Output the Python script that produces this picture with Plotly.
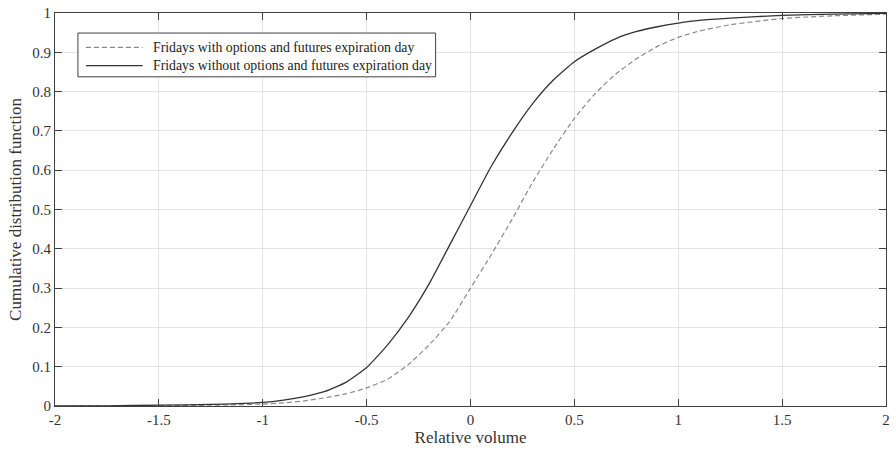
import plotly.graph_objects as go

# Relative volume grid
relative_volume = [-2.0, -1.75, -1.5, -1.25, -1.0, -0.9, -0.8, -0.7, -0.6, -0.5,
                   -0.4, -0.3, -0.2, -0.1, 0.0, 0.1, 0.2, 0.3, 0.4, 0.5,
                   0.6, 0.7, 0.8, 0.9, 1.0, 1.1, 1.25, 1.5, 1.75, 2.0]

# Empirical CDF: Fridays with options and futures expiration day
cdf_with_expiration = [0.0, 0.0002, 0.0008, 0.002, 0.005, 0.008, 0.013, 0.021, 0.031, 0.046,
                       0.068, 0.105, 0.155, 0.215, 0.300, 0.385, 0.475, 0.570, 0.655, 0.732,
                       0.795, 0.845, 0.884, 0.915, 0.938, 0.954, 0.970, 0.986, 0.993, 0.997]

# Empirical CDF: Fridays without options and futures expiration day
cdf_without_expiration = [0.0, 0.0005, 0.002, 0.004, 0.009, 0.015, 0.024, 0.037, 0.060, 0.098,
                          0.155, 0.225, 0.310, 0.410, 0.510, 0.610, 0.695, 0.770, 0.830, 0.876,
                          0.908, 0.935, 0.953, 0.965, 0.974, 0.981, 0.987, 0.994, 0.997, 0.999]

series_names = ["Fridays with options and futures expiration day",
                "Fridays without options and futures expiration day"]

x_tick_values = [-2, -1.5, -1, -0.5, 0, 0.5, 1, 1.5, 2]
x_tick_labels = ["-2", "-1.5", "-1", "-0.5", "0", "0.5", "1", "1.5", "2"]
y_tick_values = [0, 0.1, 0.2, 0.3, 0.4, 0.5, 0.6, 0.7, 0.8, 0.9, 1]
y_tick_labels = ["0", "0.1", "0.2", "0.3", "0.4", "0.5", "0.6", "0.7", "0.8", "0.9", "1"]

FONT = "Liberation Serif"
series_styles = [
    dict(color="#8a8a8a", width=1.2, dash="5px,3px"),
    dict(color="#333333", width=1.3, dash="solid"),
]

fig = go.Figure()
for name, values, style in zip(series_names,
                               [cdf_with_expiration, cdf_without_expiration],
                               series_styles):
    fig.add_trace(go.Scatter(
        x=relative_volume, y=values, mode="lines", name=name, showlegend=False,
        line=dict(shape="spline", smoothing=0.5, **style),
    ))

# Boxed legend in the upper-left corner (paper coordinates), MATLAB-style long samples
legend_box = dict(x0=0.0276, x1=0.458, y0=0.8376, y1=0.949)
legend_rows_y = [0.9125, 0.866]
sample_x = (0.0372, 0.1055)
label_x = 0.1151

fig.add_shape(type="rect", xref="paper", yref="paper", **legend_box,
              line=dict(color="#404040", width=1), fillcolor="white", layer="above")
for name, row_y, style in zip(series_names, legend_rows_y, series_styles):
    fig.add_shape(type="line", xref="paper", yref="paper",
                  x0=sample_x[0], x1=sample_x[1], y0=row_y, y1=row_y,
                  line=style, layer="above")
    fig.add_annotation(xref="paper", yref="paper", x=label_x, y=row_y,
                       xanchor="left", yanchor="middle", showarrow=False, text=name,
                       font=dict(family=FONT, size=13.8, color="#222222"))

axis_common = dict(
    showline=True, linecolor="#404040", linewidth=1, mirror="ticks",
    ticks="inside", ticklen=7, tickcolor="#404040", tickwidth=1,
    showgrid=True, gridcolor="#e4e4e4", gridwidth=1, zeroline=False,
    tickfont=dict(family=FONT, size=15, color="#333333"),
)

fig.update_layout(
    width=895, height=452,
    margin=dict(l=55, r=5, t=12, b=46),
    paper_bgcolor="white", plot_bgcolor="white",
    font=dict(family=FONT, color="#333333"),
    showlegend=False,
    xaxis=dict(
        range=[-2, 2], tickvals=x_tick_values, ticktext=x_tick_labels,
        title=dict(text="Relative volume", font=dict(family=FONT, size=17, color="#333333"), standoff=3),
        **axis_common,
    ),
    yaxis=dict(
        range=[0, 1], tickvals=y_tick_values, ticktext=y_tick_labels,
        title=dict(text="Cumulative distribution function", font=dict(family=FONT, size=17, color="#333333"), standoff=6),
        **axis_common,
    ),
)

fig.write_html("out.html")
